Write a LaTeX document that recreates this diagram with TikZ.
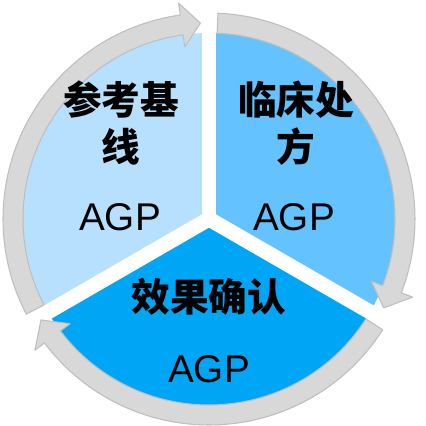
\documentclass[tikz,border=0pt]{standalone}
\usepackage{fontspec}
\setmainfont{Liberation Sans}
\newfontfamily\cjk{Noto Sans CJK SC}
\definecolor{paleblue}{RGB}{183,224,255}
\definecolor{midblue}{RGB}{100,195,255}
\definecolor{deepblue}{RGB}{0,166,246}
\definecolor{ringgray}{RGB}{216,216,216}
\definecolor{ringedge}{RGB}{190,190,190}

\tikzstyle{stage} = [align=center,inner sep=0pt,font=\cjk\bfseries\fontsize{22}{27}\selectfont]
\tikzstyle{tag} = [inner sep=0pt,font=\fontsize{22}{26}\selectfont]
\tikzstyle{ringarrow} = [fill=ringgray,draw=ringedge,line width=0.6pt,line join=round]
\tikzstyle{gap} = [white,line width=0.3cm]

\begin{document}
\begin{tikzpicture}[x=0.02cm,y=0.02cm]
		\useasboundingbox (-209,-207) rectangle (217,219);
		% three sectors
		\fill[paleblue] (0,0) -- (90:186) arc[start angle=90,end angle=210,radius=186] -- cycle;
		\fill[midblue] (0,0) -- (-30:186) arc[start angle=-30,end angle=90,radius=186] -- cycle;
		\fill[deepblue] (0,0) -- (210:186) arc[start angle=210,end angle=330,radius=186] -- cycle;
		\draw[gap] (0,0) -- (90:190);
		\draw[gap] (0,0) -- (210:190);
		\draw[gap] (0,0) -- (330:190);
		% ring of arrows
		\filldraw[ringarrow] (207.5:206) arc[start angle=207.5,end angle=98,radius=206] -- (98:218) -- (92.5:196) -- (98:174) -- (98:186) arc[start angle=98,end angle=207.5,radius=186] -- cycle;
		\filldraw[ringarrow] (87.5:206) arc[start angle=87.5,end angle=-21,radius=206] -- (-21:218) -- (-27:196) -- (-21:174) -- (-21:186) arc[start angle=-21,end angle=87.5,radius=186] -- cycle;
		\filldraw[ringarrow] (-32.5:206) arc[start angle=-32.5,end angle=-143,radius=206] -- (-143:218) -- (-149:196) -- (-143:174) -- (-143:186) arc[start angle=-143,end angle=-32.5,radius=186] -- cycle;
		% labels
		\node[stage] (baseline) at (-88,96) {参考基\\线};
		\node[tag] (baselineagp) at (-89,2) {AGP};
		\node[stage] (clinic) at (87,96) {临床处\\方};
		\node[tag] (clinicagp) at (85,2) {AGP};
		\node[stage] (confirm) at (0,-78) {效果确认};
		\node[tag] (confirmagp) at (0,-150) {AGP};
		\end{tikzpicture}
\end{document}
